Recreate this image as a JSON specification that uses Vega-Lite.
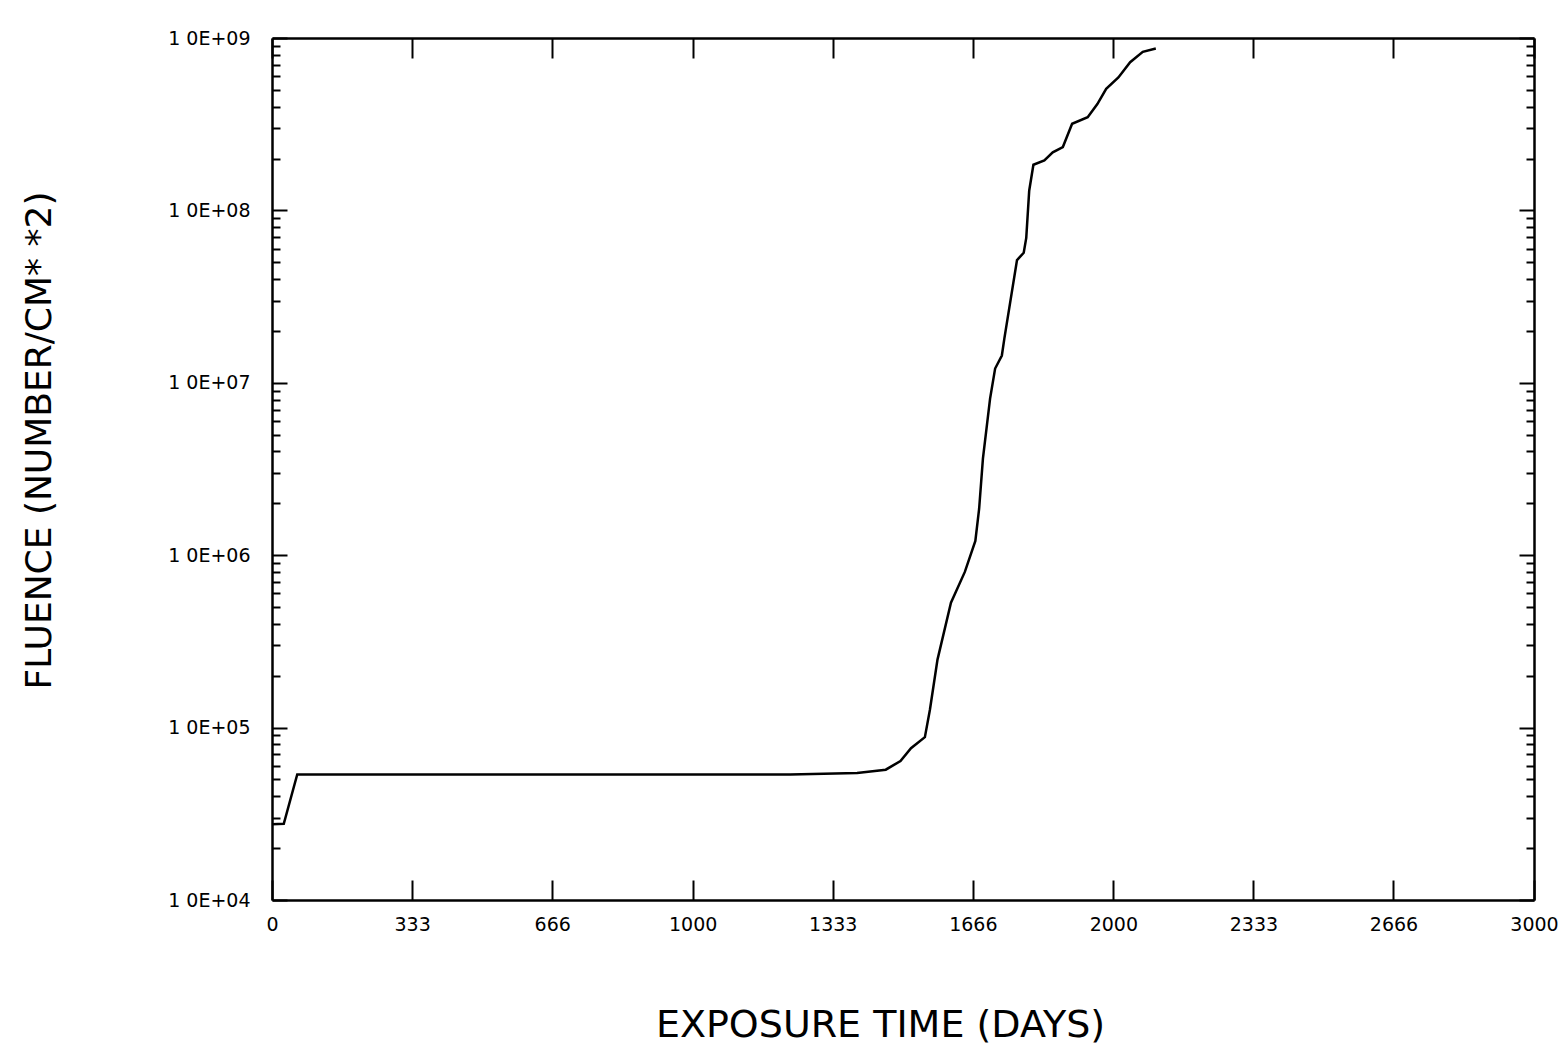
{
  "$schema": "https://vega.github.io/schema/vega-lite/v6.json",
  "autosize": "none",
  "width": 1262,
  "height": 862,
  "padding": {"left": 272, "top": 38, "right": 33, "bottom": 155},
  "background": "white",
  "config": {
    "view": {"stroke": null},
    "axis": {"labelFont": "DejaVu Sans", "titleFont": "DejaVu Sans", "labelColor": "black", "titleColor": "black", "domainColor": "black", "tickColor": "black", "grid": false, "titleFontWeight": "normal", "domainWidth": 2.5, "tickWidth": 2}
  },
  "data": {"values": [
    {"t": 0, "f": 27500}, {"t": 28, "f": 27700}, {"t": 60, "f": 53500},
    {"t": 1232, "f": 53500}, {"t": 1391, "f": 54500}, {"t": 1459, "f": 57000},
    {"t": 1494, "f": 64000}, {"t": 1519, "f": 76000}, {"t": 1552, "f": 88000},
    {"t": 1564, "f": 127000}, {"t": 1582, "f": 248000}, {"t": 1614, "f": 530000},
    {"t": 1647, "f": 800000}, {"t": 1672, "f": 1210000}, {"t": 1681, "f": 1860000},
    {"t": 1690, "f": 3630000}, {"t": 1707, "f": 8100000}, {"t": 1719, "f": 12100000},
    {"t": 1735, "f": 14400000}, {"t": 1741, "f": 18100000}, {"t": 1771, "f": 51500000},
    {"t": 1787, "f": 56800000}, {"t": 1793, "f": 69300000}, {"t": 1800, "f": 130000000},
    {"t": 1810, "f": 184000000}, {"t": 1836, "f": 195000000}, {"t": 1856, "f": 217000000},
    {"t": 1880, "f": 233000000}, {"t": 1902, "f": 318000000}, {"t": 1939, "f": 347000000},
    {"t": 1962, "f": 414000000}, {"t": 1983, "f": 507000000}, {"t": 2012, "f": 590000000},
    {"t": 2040, "f": 724000000}, {"t": 2070, "f": 832000000}, {"t": 2101, "f": 869000000}
  ]},
  "resolve": {"axis": {"x": "independent", "y": "independent"}},
  "layer": [
    {
      "mark": {"type": "line", "color": "black", "strokeWidth": 2.5, "clip": true},
      "encoding": {
        "x": {"field": "t", "type": "quantitative", "scale": {"domain": [0, 3000], "nice": false, "zero": false},
          "axis": {"orient": "bottom", "values": [0, 333, 666, 1000, 1333, 1666, 2000, 2333, 2666, 3000], "format": "d", "tickSize": -20, "labelFontSize": 19, "labelPadding": 35, "labelDx": 6, "labelFlush": false, "title": "EXPOSURE  TIME  (DAYS)", "titleFontSize": 38, "titleX": 608, "titleY": 106, "titleBaseline": "top"}},
        "y": {"field": "f", "type": "quantitative", "scale": {"type": "log", "domain": [10000, 1000000000], "nice": false},
          "axis": {"orient": "left", "values": [10000, 100000, 1000000, 10000000, 100000000, 1000000000], "tickSize": -15, "labelFontSize": 19, "labelPadding": 37, "labelFlush": false, "labelExpr": "'1 0E+0' + round(log(datum.value)/LN10)", "title": "FLUENCE  (NUMBER/CM* *2)", "titleFontSize": 36, "titleX": -214, "titleY": 402}}
      }
    },
    {
      "mark": {"type": "line", "opacity": 0},
      "encoding": {
        "x": {"field": "t", "type": "quantitative", "axis": {"orient": "top", "values": [0, 333, 666, 1000, 1333, 1666, 2000, 2333, 2666, 3000], "tickSize": -20, "labels": false, "title": null}},
        "y": {"field": "f", "type": "quantitative",
          "axis": {"orient": "left", "domain": false, "values": [20000, 30000, 40000, 50000, 60000, 70000, 80000, 90000, 200000, 300000, 400000, 500000, 600000, 700000, 800000, 900000, 2000000, 3000000, 4000000, 5000000, 6000000, 7000000, 8000000, 9000000, 20000000, 30000000, 40000000, 50000000, 60000000, 70000000, 80000000, 90000000, 200000000, 300000000, 400000000, 500000000, 600000000, 700000000, 800000000, 900000000], "tickSize": -8, "labels": false, "title": null}}
      }
    },
    {
      "mark": {"type": "line", "opacity": 0},
      "encoding": {
        "x": {"field": "t", "type": "quantitative", "axis": null},
        "y": {"field": "f", "type": "quantitative",
          "axis": {"orient": "right", "values": [10000, 100000, 1000000, 10000000, 100000000, 1000000000], "tickSize": -15, "labels": false, "title": null}}
      }
    },
    {
      "mark": {"type": "line", "opacity": 0},
      "encoding": {
        "x": {"field": "t", "type": "quantitative", "axis": null},
        "y": {"field": "f", "type": "quantitative",
          "axis": {"orient": "right", "domain": false, "values": [20000, 30000, 40000, 50000, 60000, 70000, 80000, 90000, 200000, 300000, 400000, 500000, 600000, 700000, 800000, 900000, 2000000, 3000000, 4000000, 5000000, 6000000, 7000000, 8000000, 9000000, 20000000, 30000000, 40000000, 50000000, 60000000, 70000000, 80000000, 90000000, 200000000, 300000000, 400000000, 500000000, 600000000, 700000000, 800000000, 900000000], "tickSize": -8, "labels": false, "title": null}}
      }
    }
  ]
}
